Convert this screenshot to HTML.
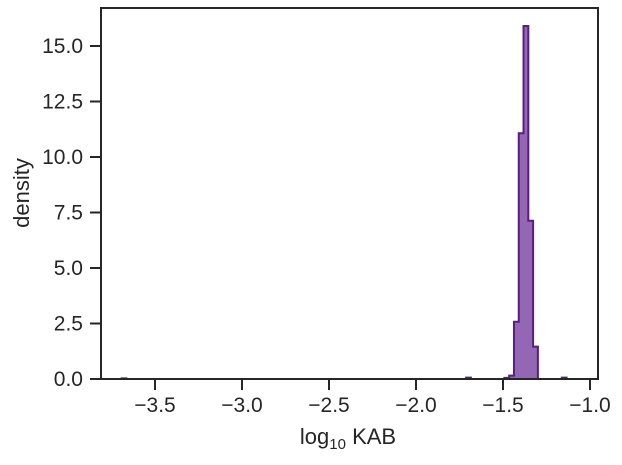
<!DOCTYPE html>
<html><head><meta charset="utf-8"><style>
body{margin:0;background:#fff}
svg text{font-family:"Liberation Sans",sans-serif;fill:#262626}
</style></head><body>
<svg id="chart" width="622" height="460" xmlns="http://www.w3.org/2000/svg"></svg>
<script>
const binStart = -3.692;
const binWidth = 0.0275;
const binDensity = [0.03,0,0,0,0,0,0,0,0,0,0,0,0,0,0,0,0,0,0,0,0,0,0,0,0,0,0,0,0,0,0,0,0,0,0,0,0,0,0,0,0,0,0,0,0,0,0,0,0,0,0,0,0,0,0,0,0,0,0,0,0,0,0,0,0,0,0,0,0,0,0,0,0.06,0,0,0,0,0,0,0,0.05,0.15,2.58,11.07,15.9,7.13,1.46,0,0,0,0,0,0.06,0,0];
const xTicks = [-3.5,-3.0,-2.5,-2.0,-1.5,-1.0];
const yTicks = [0,2.5,5,7.5,10,12.5,15];
const yTickLabels = ["0.0","2.5","5.0","7.5","10.0","12.5","15.0"];
const xTickLabels = ["−3.5","−3.0","−2.5","−2.0","−1.5","−1.0"];

const svg = document.getElementById('chart');
const NS = 'http://www.w3.org/2000/svg';
const L=101,R=598,T=8,B=379;
const X = v => 155 + (v + 3.5) * 174;
const Y = v => 379 - v * 22.2;
function mk(tag, attrs){const e=document.createElementNS(NS,tag);for(const k in attrs)e.setAttribute(k,attrs[k]);svg.appendChild(e);return e;}

let d = `M${X(binStart)},${Y(0)}`;
binDensity.forEach((h,i)=>{const x0=X(binStart+i*binWidth),x1=X(binStart+(i+1)*binWidth);d+=` L${x0},${Y(h)} L${x1},${Y(h)}`;});
d += ` L${X(binStart+binDensity.length*binWidth)},${Y(0)} Z`;
const p = mk('path',{d:d,fill:'#9467b4',stroke:'#5a1d82','stroke-width':2,'stroke-linejoin':'miter'});



const frame = mk('rect',{x:L,y:T,width:R-L,height:B-T,fill:'none',stroke:'#262626','stroke-width':2});



xTicks.forEach((v,i)=>{
  const t=mk('line',{x1:X(v),x2:X(v),y1:B,y2:B+11,stroke:'#262626','stroke-width':2});
  
  
  const tx=mk('text',{x:X(v),y:B+33,'text-anchor':'middle','font-size':21});
  tx.textContent=xTickLabels[i];
  
  
});
yTicks.forEach((v,i)=>{
  const t=mk('line',{x1:L-11,x2:L,y1:Y(v),y2:Y(v),stroke:'#262626','stroke-width':2});
  
  
  const tx=mk('text',{x:L-18,y:Y(v)+7,'text-anchor':'end','font-size':21});
  tx.textContent=yTickLabels[i];
  
  
});
const xl=mk('text',{x:348,y:444,'text-anchor':'middle','font-size':22});
xl.innerHTML='log<tspan font-size="15" dy="5">10</tspan><tspan dy="-5"> KAB</tspan>';


const yl=mk('text',{x:0,y:0,'text-anchor':'middle','font-size':22,transform:'translate(29,193) rotate(-90)'});
yl.textContent='density';


</script>
</body></html>
